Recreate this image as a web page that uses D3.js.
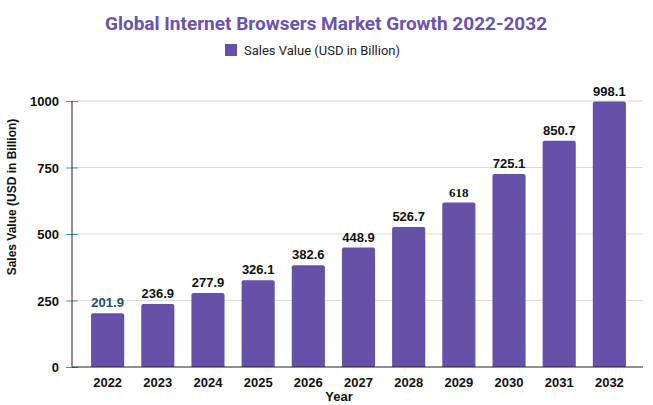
<!DOCTYPE html>
<html><head><meta charset="utf-8">
<script src="https://cdn.jsdelivr.net/npm/d3@7"></script>
<style>body{margin:0;background:#fff}svg{display:block}</style>
</head><body>
<svg id="c" width="653" height="405"></svg>
<script>
const years = ["2022","2023","2024","2025","2026","2027","2028","2029","2030","2031","2032"];
const values = [201.9,236.9,277.9,326.1,382.6,448.9,526.7,618,725.1,850.7,998.1];
const labels = ["201.9","236.9","277.9","326.1","382.6","448.9","526.7","618","725.1","850.7","998.1"];
const yTicks = [0,250,500,750,1000];

const svg = d3.select("#c");
const purple = "#6750a7";
const x0 = 72, x1 = 645, yTop = 101, yBot = 367;
const x = d3.scaleBand().domain(years).range([x0, x1]).paddingInner(0.34).paddingOuter(0.38);
const y = d3.scaleLinear().domain([0,1000]).range([yBot, yTop]);

// title
svg.append("text").attr("x",326).attr("y",30).attr("text-anchor","middle")
  .attr("font-family","Roboto, sans-serif").attr("font-weight","bold").attr("font-size",19)
  .attr("fill","#6a52ad").text("Global Internet Browsers Market Growth 2022-2032");
// legend
svg.append("rect").attr("x",225).attr("y",44).attr("width",12).attr("height",12).attr("fill",purple);
svg.append("text").attr("x",244).attr("y",55).attr("font-family","Roboto, sans-serif").attr("font-size",13)
  .attr("fill","#222").text("Sales Value (USD in Billion)");

// gridlines
svg.append("g").selectAll("line").data(yTicks.slice(1)).join("line")
  .attr("x1",x0).attr("x2",643).attr("y1",d=>y(d)).attr("y2",d=>y(d))
  .attr("stroke","#d9d9d9").attr("stroke-width",1);

// y axis
const ya = svg.append("g").attr("transform",`translate(${x0},0)`)
  .call(d3.axisLeft(y).tickValues(yTicks).tickFormat(d3.format("d")).tickSize(6).tickPadding(7));
ya.select(".domain").remove();
ya.selectAll(".tick line").attr("stroke","#4a8fa3").attr("x2",6).attr("x1",-6);
ya.selectAll(".tick text").attr("font-family","Arial, Liberation Sans, sans-serif").attr("font-weight","bold")
  .attr("font-size",13).attr("fill","#111").attr("dy","0.35em");
svg.append("line").attr("x1",x0).attr("x2",x0).attr("y1",yTop).attr("y2",yBot).attr("stroke","#222");

// bars
svg.append("g").selectAll("path").data(values).join("path")
  .attr("fill",purple)
  .attr("d",(d,i)=>{
    const bx = x(years[i]), bw = x.bandwidth(), top = y(d), r = 2;
    return `M${bx},${yBot}V${top+r}Q${bx},${top} ${bx+r},${top}H${bx+bw-r}Q${bx+bw},${top} ${bx+bw},${top+r}V${yBot}Z`;
  });

// x axis
const xa = svg.append("g").attr("transform",`translate(0,${yBot})`)
  .call(d3.axisBottom(x).tickSize(0).tickPadding(8));
xa.select(".domain").attr("stroke","#222").attr("d",`M${x0},0H643`);
xa.selectAll(".tick text").attr("font-family","Arial, Liberation Sans, sans-serif").attr("font-weight","bold")
  .attr("font-size",13).attr("fill","#111").attr("dy","0.9em");

// value labels
svg.append("g").selectAll("text").data(values).join("text")
  .attr("x",(d,i)=>x(years[i])+x.bandwidth()/2).attr("y",d=>y(d)-6)
  .attr("text-anchor","middle").attr("font-weight","bold").attr("font-size",13)
  .attr("font-family",(d,i)=>labels[i]==="618" ? "Liberation Serif, Times New Roman, serif" : "Arial, Liberation Sans, sans-serif")
  .attr("fill",(d,i)=>i===0 ? "#1f4f63" : "#111")
  .text((d,i)=>labels[i]);

// axis titles
svg.append("text").attr("x",339).attr("y",401).attr("text-anchor","middle")
  .attr("font-family","Arial, Liberation Sans, sans-serif").attr("font-weight","bold").attr("font-size",13)
  .attr("fill","#111").text("Year");
svg.append("text").attr("transform","translate(16,197) rotate(-90)").attr("text-anchor","middle")
  .attr("font-family","Arial, Liberation Sans, sans-serif").attr("font-weight","bold").attr("font-size",12)
  .attr("fill","#111").text("Sales Value (USD in Billion)");
</script>
</body></html>
